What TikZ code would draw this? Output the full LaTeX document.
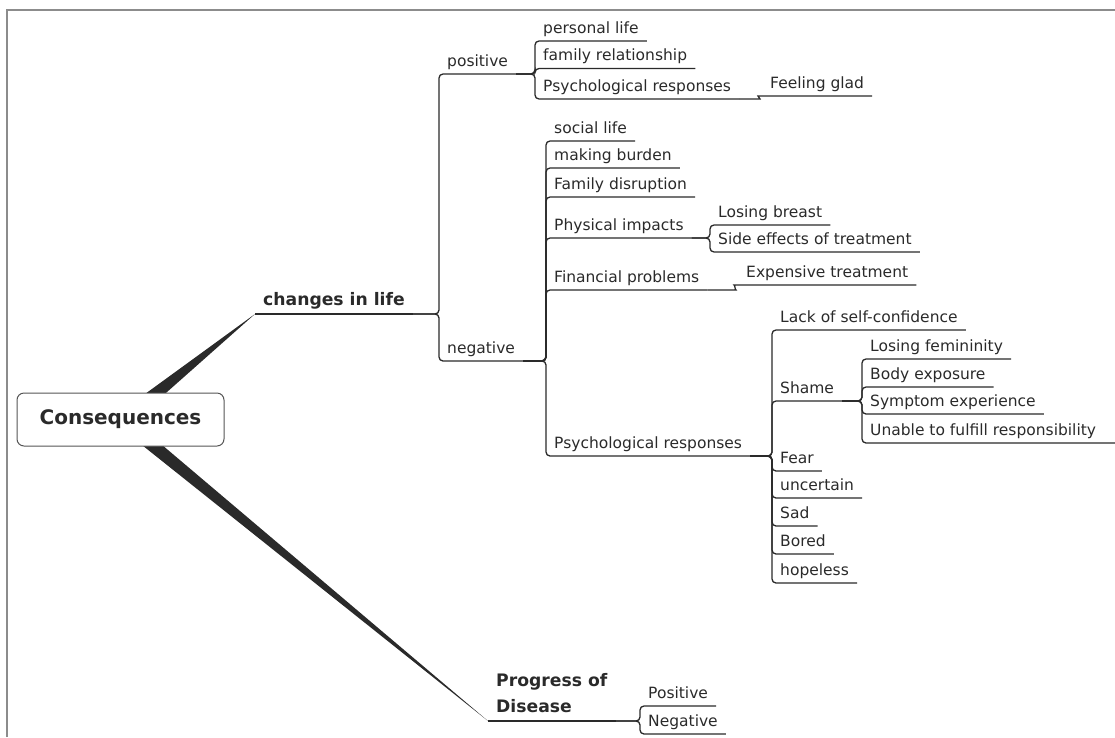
\documentclass[tikz,border=0pt]{standalone}
\usepackage{fontspec}
\setmainfont{DejaVu Sans}
\usetikzlibrary{calc}
\pgfdeclarelayer{background}
\pgfsetlayers{background,main}
\definecolor{ink}{HTML}{2A2A2A}
\definecolor{framegray}{HTML}{8C8C8C}
\definecolor{boxline}{HTML}{555555}
\begin{document}
\begin{tikzpicture}[x=1pt,y=-1pt,
  topic/.style={anchor=south west, inner xsep=8pt, inner ysep=0pt,
    text height=11.5pt, text depth=7.5pt, text=ink,
    font=\fontsize{15.5}{18}\selectfont},
  major/.style={topic, text height=13pt, text depth=8pt,
    font=\bfseries\fontsize{17.2}{26}\selectfont},
  link/.style={draw=ink, line width=1.3pt, rounded corners=4pt},
  taper/.style={fill=ink},
]
\useasboundingbox (0,0) rectangle (1115,737);

% page frame
\draw[framegray, line width=1.4pt] (7,737) -- (7,10) -- (1115,10);

% central topic
\node[draw=boxline, fill=white, rounded corners=7pt, line width=1pt,
      minimum width=207pt, minimum height=53pt, text=ink,
      font=\bfseries\fontsize{20}{24}\selectfont] (root) at (120.5,419.5) {Consequences};

% main topics
\node[major] (chg) at (255,314) {changes in life};
\node[major, align=left] (prog) at (488,721) {Progress of\\Disease};

% tapered main branches
\begin{pgfonlayer}{background}
  \fill[taper] ($(root.center)+(-10.5,0)$) -- ($(root.center)+(15.5,0)$) -- (chg.south west) -- cycle;
  \fill[taper] ($(root.center)+(-10.5,0)$) -- ($(root.center)+(11.5,0)$) -- (prog.south west) -- cycle;
\end{pgfonlayer}
\draw[link] (chg.south west) -- (chg.south east);
\draw[link] (prog.south west) -- (prog.south east);

% subtopics
\node[topic] (pos) at (439,74) {positive};
\node[topic] (neg) at (439,361) {negative};
\node[topic] (plife) at (535,41) {personal life};
\node[topic] (frel) at (535,68.5) {family relationship};
\node[topic] (ppsy) at (535,99) {Psychological responses};
\node[topic] (glad) at (762,96) {Feeling glad};
\node[topic] (soc) at (546,141) {social life};
\node[topic] (burd) at (546,168) {making burden};
\node[topic] (fdis) at (546,197) {Family disruption};
\node[topic] (phys) at (546,238) {Physical impacts};
\node[topic] (fin) at (546,290) {Financial problems};
\node[topic] (npsy) at (546,456) {Psychological responses};
\node[topic] (breast) at (710,225) {Losing breast};
\node[topic] (side) at (710,252) {Side effects of treatment};
\node[topic] (exp) at (738,285) {Expensive treatment};
\node[topic] (lack) at (772,330) {Lack of self-confidence};
\node[topic] (shame) at (772,401) {Shame};
\node[topic] (fear) at (772,471) {Fear};
\node[topic] (unc) at (772,498) {uncertain};
\node[topic] (sad) at (772,526) {Sad};
\node[topic] (bored) at (772,554) {Bored};
\node[topic] (hope) at (772,583) {hopeless};
\node[topic] (fem) at (862,359) {Losing femininity};
\node[topic] (body) at (862,387) {Body exposure};
\node[topic] (symp) at (862,414) {Symptom experience};
\node[topic] (unable) at (862,443) {Unable to fulfill responsibility};
\node[topic] (ppos) at (640,706) {Positive};
\node[topic] (pneg) at (640,734) {Negative};

% elbow connectors: parent underline -> vertical spine -> child underline
\foreach \p/\c in {chg/pos, chg/neg,
    pos/plife, pos/frel, pos/ppsy,
    neg/soc, neg/burd, neg/fdis, neg/phys, neg/fin, neg/npsy,
    phys/breast, phys/side,
    npsy/lack, npsy/shame, npsy/fear, npsy/unc, npsy/sad, npsy/bored, npsy/hope,
    shame/fem, shame/body, shame/symp,
    prog/ppos, prog/pneg}
  \draw[link] (\p.south east) -- (\p.south east -| \c.south west) -- (\c.south west) -- (\c.south east);

\draw[link] (shame.south east) -- (shame.south east -| unable.south west) -- (unable.south west) -- ($(unable.south east)+(14,0)$);

% single-child links with a small step
\draw[link] (ppsy.south east) -- ($(glad.south west |- ppsy.south east)+(-6,0)$)
  .. controls +(3,0) and +(-3,0) .. (glad.south west) -- (glad.south east);
\draw[link] (fin.south east) -- ($(exp.south west |- fin.south east)+(-6,0)$)
  .. controls +(3,0) and +(-3,0) .. (exp.south west) -- (exp.south east);
\end{tikzpicture}
\end{document}
